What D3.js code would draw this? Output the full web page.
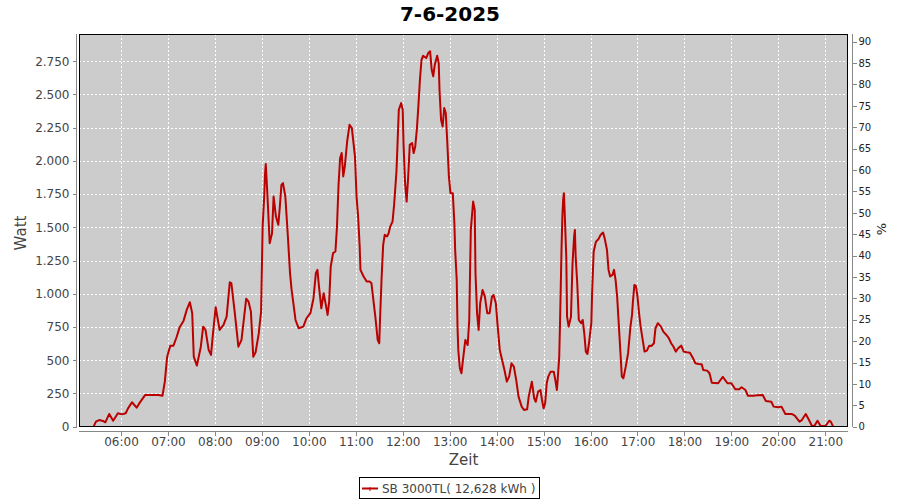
<!DOCTYPE html>
<html>
<head>
<meta charset="utf-8">
<script src="https://cdn.jsdelivr.net/npm/d3@7/dist/d3.min.js"></script>
<style>
  html, body { margin: 0; padding: 0; background: #fff; }
  svg { display: block; font-family: "DejaVu Sans", sans-serif; }
</style>
</head>
<body>
<svg id="chart" width="900" height="500"></svg>
<script>
const title = "7-6-2025";
const seriesName = "SB 3000TL( 12,628 kWh )";
const xLabel = "Zeit";
const yLabel = "Watt";
const y2Label = "%";

const times = ["05:25","05:28","05:32","05:37","05:40","05:45","05:50","05:56","06:01","06:06","06:09","06:14","06:20","06:24","06:31","06:35","06:48","06:53","06:56","06:58","06:59","07:03","07:07","07:11","07:15","07:20","07:24","07:28","07:31","07:33","07:37","07:42","07:45","07:48","07:52","07:55","07:58","08:01","08:06","08:11","08:15","08:19","08:21","08:25","08:30","08:34","08:40","08:43","08:46","08:49","08:52","08:56","08:59","09:01","09:03","09:04","09:05","09:07","09:10","09:13","09:15","09:18","09:21","09:23","09:25","09:27","09:30","09:33","09:36","09:38","09:40","09:43","09:47","09:53","09:57","10:02","10:06","10:09","10:11","10:13","10:16","10:19","10:21","10:24","10:26","10:28","10:31","10:34","10:36","10:38","10:40","10:42","10:44","10:46","10:49","10:52","10:55","10:59","11:01","11:03","11:05","11:06","11:10","11:14","11:18","11:20","11:22","11:25","11:28","11:30","11:31","11:33","11:35","11:37","11:40","11:42","11:44","11:47","11:49","11:52","11:53","11:55","11:58","12:00","12:01","12:03","12:05","12:07","12:09","12:12","12:14","12:16","12:18","12:20","12:22","12:24","12:26","12:30","12:33","12:35","12:37","12:39","12:41","12:44","12:46","12:47","12:49","12:51","12:53","12:55","12:57","12:59","13:01","13:04","13:06","13:07","13:09","13:10","13:11","13:13","13:15","13:18","13:20","13:23","13:25","13:27","13:30","13:32","13:33","13:35","13:37","13:39","13:42","13:45","13:48","13:51","13:54","13:56","13:59","14:01","14:04","14:07","14:10","14:13","14:16","14:19","14:22","14:25","14:28","14:32","14:35","14:39","14:41","14:45","14:48","14:50","14:53","14:56","14:58","15:00","15:02","15:04","15:06","15:09","15:13","15:15","15:17","15:18","15:20","15:21","15:23","15:24","15:25","15:26","15:27","15:29","15:30","15:32","15:35","15:37","15:39","15:40","15:41","15:43","15:45","15:48","15:50","15:52","15:54","15:56","15:58","16:01","16:02","16:04","16:07","16:10","16:13","16:16","16:18","16:21","16:23","16:25","16:28","16:30","16:32","16:34","16:36","16:38","16:40","16:42","16:45","16:48","16:51","16:53","16:54","16:56","16:58","17:00","17:02","17:04","17:06","17:09","17:12","17:15","17:18","17:21","17:23","17:26","17:30","17:33","17:37","17:40","17:43","17:46","17:49","17:52","17:56","17:59","18:03","18:07","18:11","18:14","18:18","18:22","18:24","18:29","18:32","18:35","18:43","18:49","18:55","19:00","19:05","19:10","19:13","19:18","19:21","19:28","19:33","19:40","19:44","19:51","19:54","20:00","20:04","20:09","20:17","20:21","20:27","20:30","20:35","20:38","20:43","20:46","20:50","20:54","21:00","21:05","21:07","21:10"];

const watts = [0,38,50,43,33,96,45,101,93,101,138,184,143,181,239,239,239,233,339,465,527,610,610,673,749,798,879,937,854,527,460,602,753,728,578,540,728,899,728,766,828,1087,1080,879,602,653,963,941,866,527,560,700,866,1506,1732,1895,1976,1757,1381,1456,1732,1581,1519,1657,1820,1833,1732,1456,1155,1029,941,803,741,753,816,854,967,1155,1180,1054,891,1004,941,841,941,1205,1306,1318,1506,1820,2021,2059,1883,1958,2146,2272,2247,2033,1732,1581,1355,1180,1130,1092,1092,1080,979,828,653,628,803,1117,1368,1444,1431,1456,1506,1544,1669,1920,2071,2385,2435,2385,2134,1833,1694,1883,2121,2134,2059,2109,2234,2410,2611,2761,2791,2774,2816,2824,2686,2636,2724,2791,2736,2535,2309,2259,2398,2360,2134,1883,1757,1757,1532,1331,1105,753,578,440,402,553,653,615,803,1481,1694,1632,1155,854,728,929,1029,979,854,854,979,992,929,779,578,502,427,339,377,477,452,352,226,151,126,131,226,339,214,188,264,276,201,138,176,327,377,414,414,352,276,352,527,779,1355,1581,1707,1757,1607,1280,828,753,828,1230,1431,1481,1280,1080,803,779,803,703,565,547,628,779,1004,1318,1393,1411,1444,1461,1419,1331,1180,1130,1142,1180,1105,979,779,578,377,364,452,553,753,841,929,1067,1059,979,854,753,678,565,572,610,608,628,741,779,753,715,690,666,628,602,565,590,610,565,560,557,515,477,472,470,427,422,402,330,327,375,327,327,282,282,297,276,233,233,236,239,194,188,151,146,151,96,96,83,38,50,96,63,5,5,45,5,5,45,38,0];

const hourTicks = ["06:00","07:00","08:00","09:00","10:00","11:00","12:00","13:00","14:00","15:00","16:00","17:00","18:00","19:00","20:00","21:00"];
const wattTicks = [0,250,500,750,1000,1250,1500,1750,2000,2250,2500,2750];
const pctTicks = [0,5,10,15,20,25,30,35,40,45,50,55,60,65,70,75,80,85,90];

const parseT = d3.timeParse("%H:%M:%S");
const parseHM = d3.timeParse("%H:%M");
const data = times.map((t, i) => ({ t: parseHM(t), w: watts[i] }));

const L = 79, R = 848, T = 34, B = 427;
const svg = d3.select("#chart");

const x = d3.scaleTime().domain([parseT("05:06:20"), parseT("21:29:00")]).range([L, R]);
const y = d3.scaleLinear().domain([0, 2955]).range([B - 0.3, T]);
const y2 = d3.scaleLinear().domain([0, 91.8]).range([B - 0.3, T]);

const loc = d3.formatLocale({ decimal: ",", thousands: ".", grouping: [3], currency: ["", "€"] });
const fmtW = loc.format(",d");

// plot background
svg.append("rect").attr("x", L).attr("y", T).attr("width", R - L).attr("height", B - T).attr("fill", "#cccccc");

// grid
const grid = svg.append("g").attr("stroke", "#ffffff").attr("stroke-dasharray", "2,2").attr("stroke-width", 1).attr("shape-rendering", "crispEdges");
grid.selectAll("line.v").data(hourTicks).join("line")
  .attr("x1", d => Math.round(x(parseHM(d))) + 0.5).attr("x2", d => Math.round(x(parseHM(d))) + 0.5)
  .attr("y1", T).attr("y2", B);
grid.selectAll("line.h").data(wattTicks.filter(v => v > 0)).join("line")
  .attr("x1", L).attr("x2", R)
  .attr("y1", d => Math.round(y(d)) + 0.5).attr("y2", d => Math.round(y(d)) + 0.5);

// line
const line = d3.line().x(d => x(d.t)).y(d => y(d.w));
svg.append("path").datum(data).attr("d", line).attr("fill", "none")
  .attr("stroke", "#bb0000").attr("stroke-width", 2).attr("stroke-linejoin", "round");

// border
svg.append("rect").attr("x", L + 0.5).attr("y", T + 0.5).attr("width", R - L - 1).attr("height", B - T - 1)
  .attr("fill", "none").attr("stroke", "#000").attr("stroke-width", 1).attr("shape-rendering", "crispEdges");

// axes
function styleAxis(g, color, fs) {
  g.selectAll("path.domain").attr("stroke", "#888").attr("shape-rendering", "crispEdges");
  g.selectAll(".tick line").attr("stroke", "#888").attr("shape-rendering", "crispEdges");
  g.selectAll(".tick text").attr("fill", color).style("font-size", fs + "px").style("font-family", "DejaVu Sans, sans-serif");
}

const yAxis = d3.axisLeft(y).tickValues(wattTicks).tickFormat(fmtW).tickSizeOuter(0).tickSize(4).tickPadding(3);
const gy = svg.append("g").attr("transform", "translate(76.5,0)").call(yAxis);
gy.select("path.domain").attr("d", `M0,${T}V${B}`);
styleAxis(gy, "#444", 12);

const xAxis = d3.axisBottom(x).tickValues(hourTicks.map(parseHM)).tickFormat(d3.timeFormat("%H:%M")).tickSizeOuter(0).tickSize(4).tickPadding(2);
const gx = svg.append("g").attr("transform", "translate(0,431.5)").call(xAxis);
gx.select("path.domain").attr("d", `M${L},0H${R}`);
styleAxis(gx, "#444", 12);

const y2Axis = d3.axisRight(y2).tickValues(pctTicks).tickFormat(d3.format("d")).tickSizeOuter(0).tickSize(4).tickPadding(2);
const gy2 = svg.append("g").attr("transform", "translate(852.5,0)").call(y2Axis);
gy2.select("path.domain").attr("d", `M0,${T}V${B}`);
styleAxis(gy2, "#222", 10);

// titles
svg.append("text").attr("x", 450).attr("y", 21).attr("text-anchor", "middle")
  .style("font-size", "20px").style("font-weight", "bold").attr("fill", "#000").text(title);
svg.append("text").attr("x", (L + R) / 2).attr("y", 465).attr("text-anchor", "middle")
  .style("font-size", "15px").attr("fill", "#444").text(xLabel);
svg.append("text").attr("transform", "translate(26,233) rotate(-90)").attr("text-anchor", "middle")
  .style("font-size", "15px").attr("fill", "#444").text(yLabel);
svg.append("text").attr("transform", "translate(886,229) rotate(-90)").attr("text-anchor", "middle")
  .style("font-size", "13px").attr("fill", "#222").text(y2Label);

// legend
const lg = svg.append("g");
const lt = lg.append("text").attr("x", 382).attr("y", 492.5).style("font-size", "12px").attr("fill", "#444").text(seriesName);
const tw = lt.node().getComputedTextLength();
lg.insert("rect", "text").attr("x", 359.5).attr("y", 477.5).attr("width", (382 + tw + 4) - 359.5).attr("height", 21)
  .attr("fill", "#fff").attr("stroke", "#000").attr("shape-rendering", "crispEdges");
lg.append("line").attr("x1", 362).attr("x2", 378).attr("y1", 488.5).attr("y2", 488.5).attr("stroke", "#bb0000").attr("stroke-width", 2);
lg.append("line").attr("x1", 370).attr("x2", 370).attr("y1", 487).attr("y2", 491).attr("stroke", "#bb0000").attr("stroke-width", 1);
</script>
</body>
</html>
